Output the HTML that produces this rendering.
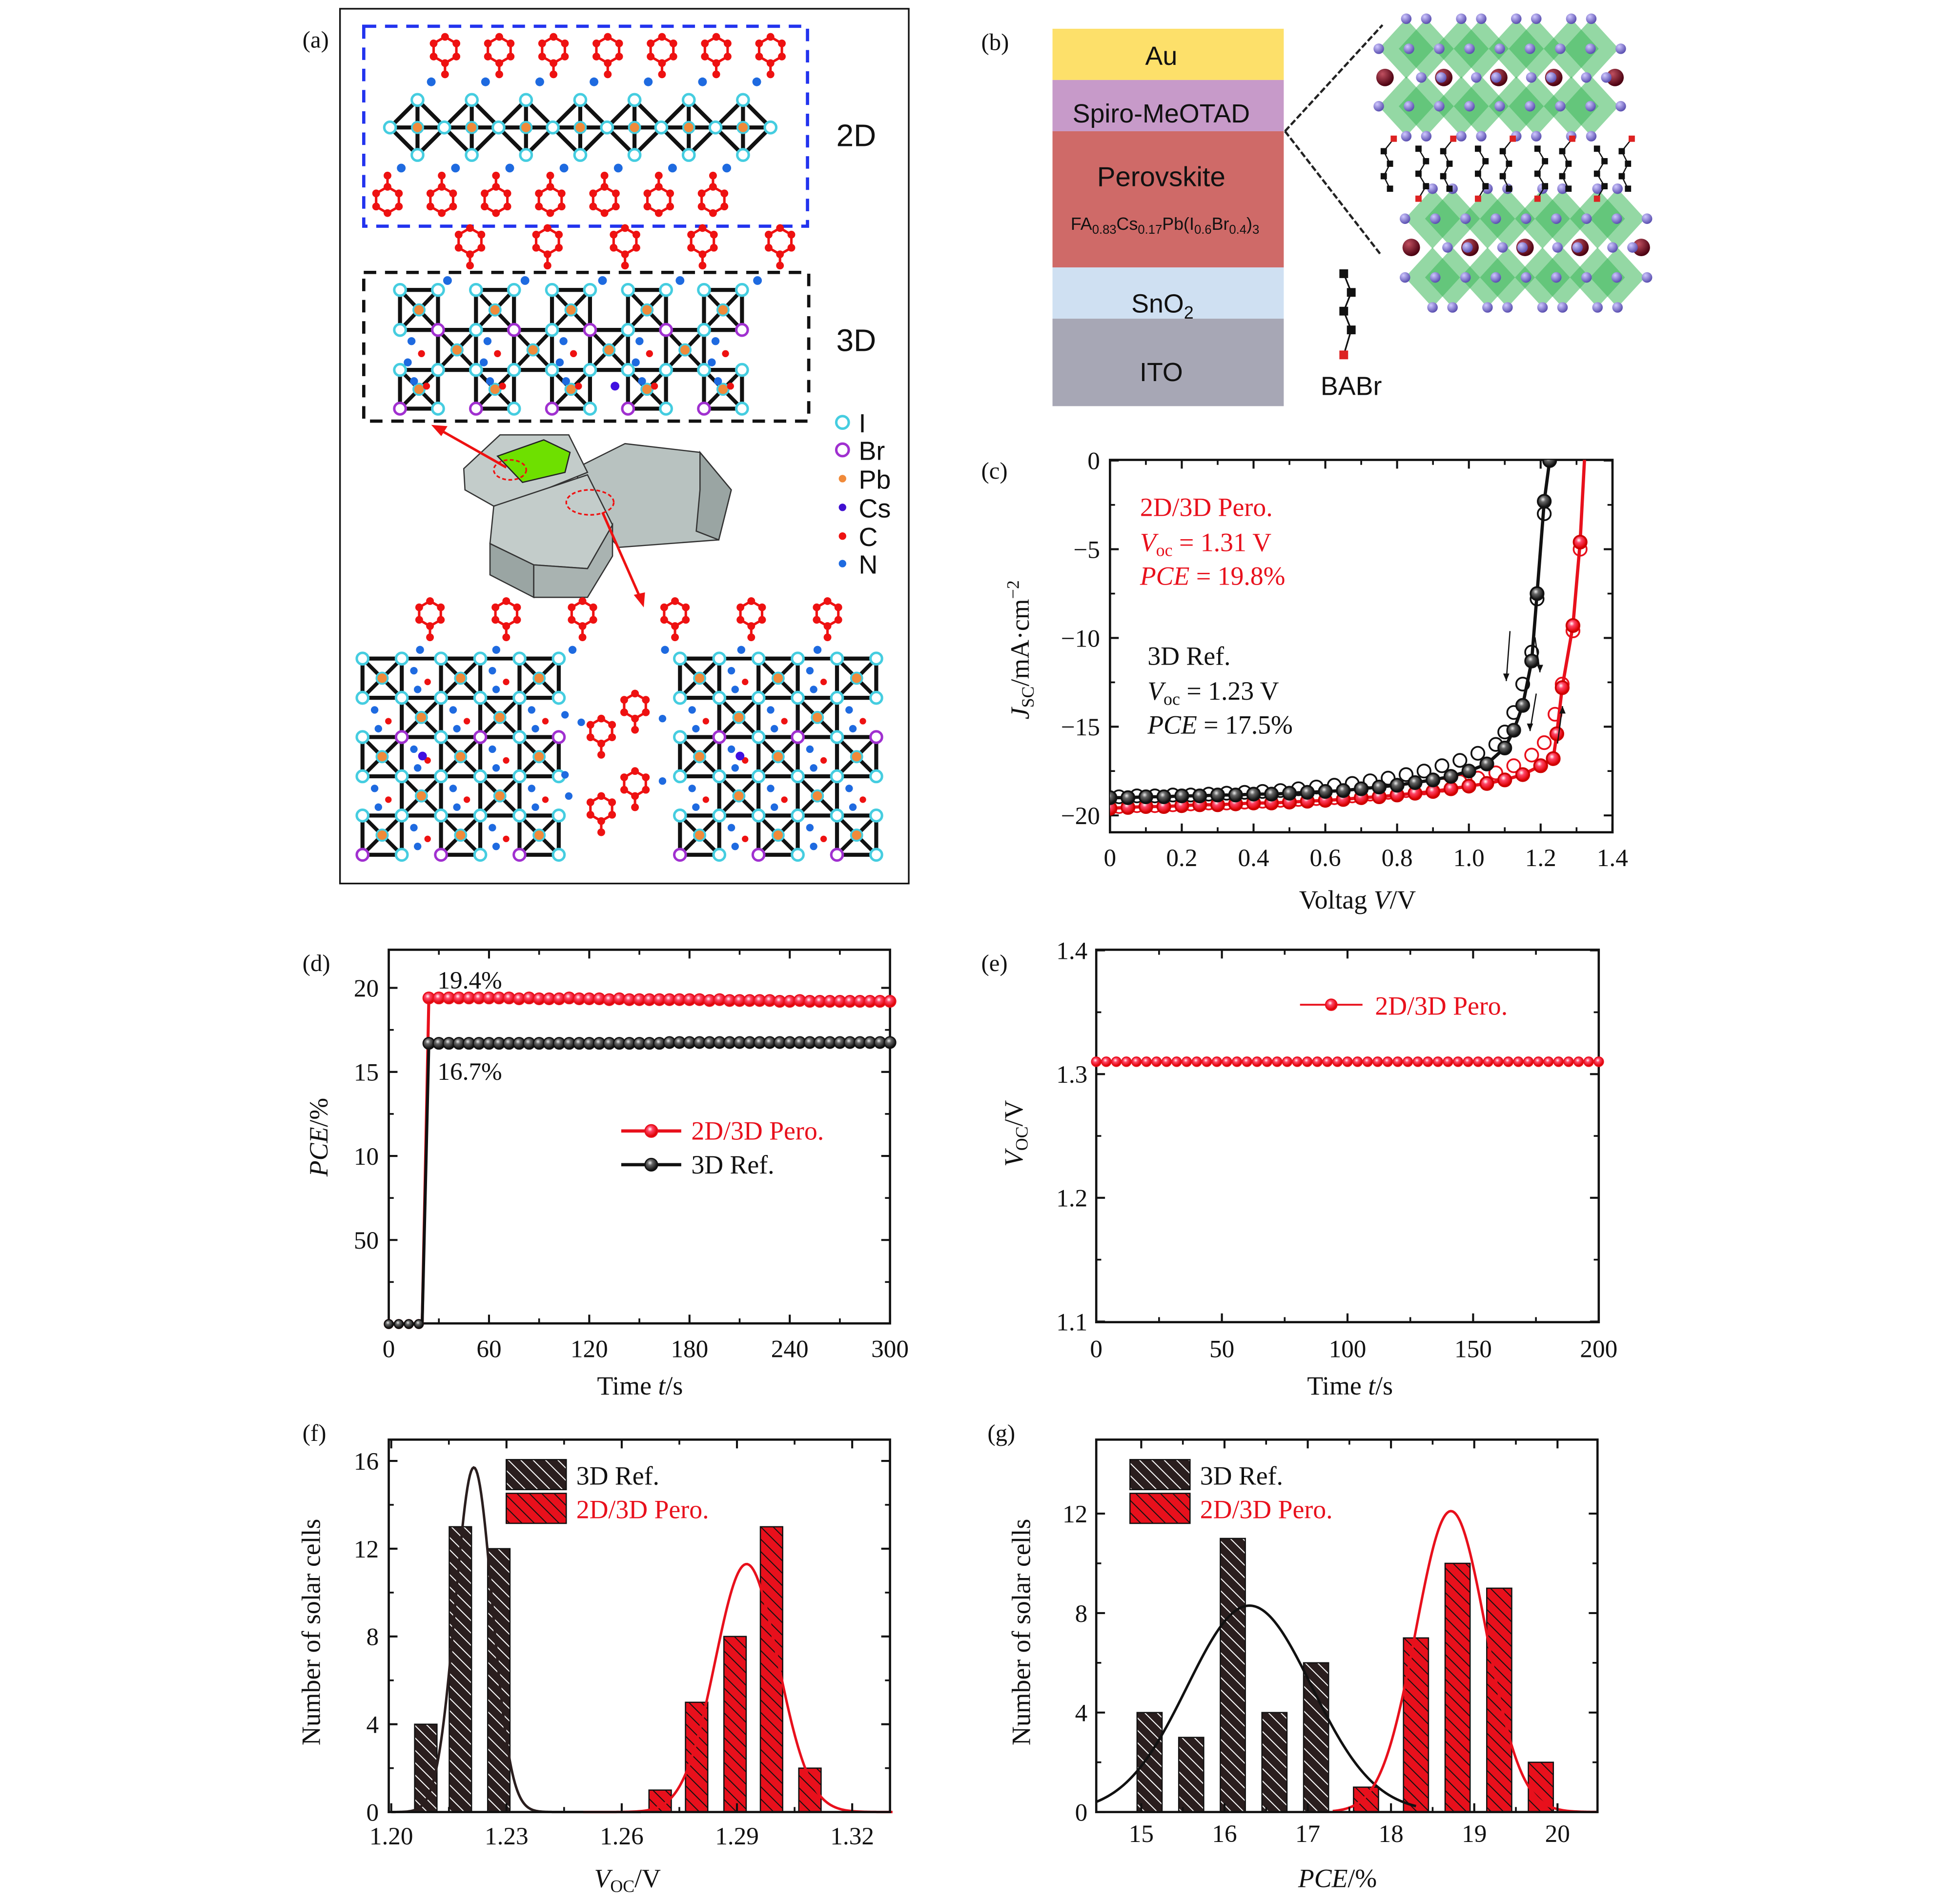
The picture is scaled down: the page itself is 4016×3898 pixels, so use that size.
<!DOCTYPE html>
<html><head><meta charset="utf-8"><style>
html,body{margin:0;padding:0;background:#fff;overflow:hidden;}
svg{display:block;}
text{font-family:"Liberation Serif",serif;}
.sans{font-family:"Liberation Sans",sans-serif;}
</style></head><body>
<svg id="fig" xmlns="http://www.w3.org/2000/svg" width="4016" height="3898" viewBox="0 0 1568 1522" preserveAspectRatio="none">
<defs>
<radialGradient id="gRed" cx="0.4" cy="0.35" r="0.6"><stop offset="0" stop-color="#fff"/><stop offset="0.35" stop-color="#f46"/><stop offset="1" stop-color="#d00"/></radialGradient>
<radialGradient id="gBlk" cx="0.4" cy="0.35" r="0.6"><stop offset="0" stop-color="#eee"/><stop offset="0.35" stop-color="#666"/><stop offset="1" stop-color="#111"/></radialGradient>
<radialGradient id="gBall" cx="0.35" cy="0.3" r="0.7"><stop offset="0" stop-color="#d0c8ff"/><stop offset="1" stop-color="#5a4fb0"/></radialGradient>
<radialGradient id="gDark" cx="0.35" cy="0.3" r="0.7"><stop offset="0" stop-color="#c05060"/><stop offset="1" stop-color="#4a0010"/></radialGradient>
<pattern id="hBlk" width="7" height="7" patternUnits="userSpaceOnUse" patternTransform="rotate(-45)"><rect width="7" height="7" fill="#2a1e1e"/><line x1="0" y1="0" x2="0" y2="7" stroke="#fff" stroke-width="1.6"/></pattern>
<pattern id="hRed" width="7" height="7" patternUnits="userSpaceOnUse" patternTransform="rotate(-45)"><rect width="7" height="7" fill="#e8101c"/><line x1="0" y1="0" x2="0" y2="7" stroke="#111" stroke-width="1.6"/></pattern>
</defs>
</svg>
<script>
const NS="http://www.w3.org/2000/svg";
const svg=document.getElementById('fig');
function el(tag,attrs,parent){const e=document.createElementNS(NS,tag);for(const k in attrs)e.setAttribute(k,attrs[k]);(parent||svg).appendChild(e);return e;}
function txt(x,y,s,attrs,parent){const t=el('text',Object.assign({x:x,y:y},attrs||{}),parent);t.textContent=s;return t;}

/* ================= DATA ================= */
// (c) J-V curves
const cRedFwdV=[0,.05,.1,.15,.2,.25,.3,.35,.4,.45,.5,.55,.6,.65,.7,.75,.8,.85,.9,.95,1.0,1.05,1.1,1.15,1.2,1.235,1.245,1.26,1.29,1.31,1.322];
const cRedFwdJ=[-19.6,-19.55,-19.5,-19.5,-19.45,-19.4,-19.4,-19.35,-19.3,-19.3,-19.25,-19.2,-19.15,-19.1,-19.0,-18.95,-18.85,-18.75,-18.65,-18.5,-18.35,-18.2,-18.0,-17.7,-17.2,-16.8,-15.4,-12.8,-9.3,-4.6,0];
const cRedRevV=[.025,.075,.125,.175,.225,.275,.325,.375,.425,.475,.525,.575,.625,.675,.725,.775,.825,.875,.925,.975,1.025,1.075,1.125,1.175,1.21,1.24,1.26,1.29,1.31];
const cRedRevJ=[-19.5,-19.45,-19.45,-19.4,-19.35,-19.3,-19.3,-19.25,-19.2,-19.15,-19.1,-19.05,-19.0,-18.9,-18.8,-18.7,-18.6,-18.45,-18.3,-18.1,-17.9,-17.6,-17.2,-16.6,-15.9,-14.3,-12.6,-9.6,-5.0];
const cBlkFwdV=[0,.05,.1,.15,.2,.25,.3,.35,.4,.45,.5,.55,.6,.65,.7,.75,.8,.85,.9,.95,1.0,1.05,1.1,1.125,1.15,1.175,1.19,1.21,1.225];
const cBlkFwdJ=[-19.0,-19.0,-18.95,-18.95,-18.9,-18.9,-18.85,-18.85,-18.8,-18.8,-18.75,-18.7,-18.65,-18.6,-18.5,-18.4,-18.3,-18.15,-18.0,-17.8,-17.5,-17.1,-16.2,-15.2,-13.8,-11.3,-7.5,-2.3,0];
const cBlkRevV=[.025,.075,.125,.175,.225,.275,.325,.375,.425,.475,.525,.575,.625,.675,.725,.775,.825,.875,.925,.975,1.025,1.075,1.1,1.125,1.15,1.175,1.19,1.21];
const cBlkRevJ=[-18.95,-18.9,-18.9,-18.85,-18.85,-18.8,-18.75,-18.7,-18.65,-18.6,-18.5,-18.4,-18.3,-18.2,-18.05,-17.9,-17.7,-17.5,-17.2,-16.9,-16.5,-16.0,-15.3,-14.2,-12.6,-10.8,-7.8,-3.0];
const cXTicks=[0,0.2,0.4,0.6,0.8,1.0,1.2,1.4];
const cXLabels=["0","0.2","0.4","0.6","0.8","1.0","1.2","1.4"];
const cYTicks=[0,-5,-10,-15,-20];
const cYLabels=["0","\u22125","\u221210","\u221215","\u221220"];

// (d) steady PCE
const dTimeZero=[0,6,12,18];
const dZeroVals=[0,0,0,0];
const dTime=[24,30,36,42,48,54,60,66,72,78,84,90,96,102,108,114,120,126,132,138,144,150,156,162,168,174,180,186,192,198,204,210,216,222,228,234,240,246,252,258,264,270,276,282,288,294,300];
const dRed=[19.4,19.4,19.4,19.4,19.4,19.4,19.4,19.4,19.4,19.35,19.4,19.35,19.35,19.35,19.4,19.35,19.35,19.35,19.3,19.35,19.3,19.3,19.3,19.3,19.3,19.3,19.3,19.3,19.25,19.3,19.25,19.25,19.25,19.25,19.25,19.2,19.2,19.25,19.2,19.2,19.2,19.2,19.2,19.2,19.2,19.2,19.2];
const dBlk=[16.7,16.7,16.7,16.7,16.7,16.7,16.7,16.7,16.7,16.7,16.7,16.7,16.7,16.7,16.7,16.7,16.7,16.7,16.7,16.7,16.7,16.7,16.7,16.7,16.75,16.75,16.75,16.75,16.75,16.75,16.75,16.75,16.75,16.75,16.75,16.75,16.75,16.75,16.75,16.75,16.75,16.75,16.75,16.75,16.75,16.75,16.75];
const dXTicks=[0,60,120,180,240,300];
const dYTicks=[20,15,10,5];
const dYLabels=["20","15","10","50"];

// (e) steady Voc
const eTime=[0,4,8,12,16,20,24,28,32,36,40,44,48,52,56,60,64,68,72,76,80,84,88,92,96,100,104,108,112,116,120,124,128,132,136,140,144,148,152,156,160,164,168,172,176,180,184,188,192,196,200];
const eVoc=[1.31,1.31,1.31,1.31,1.31,1.31,1.31,1.31,1.31,1.31,1.31,1.31,1.31,1.31,1.31,1.31,1.31,1.31,1.31,1.31,1.31,1.31,1.31,1.31,1.31,1.31,1.31,1.31,1.31,1.31,1.31,1.31,1.31,1.31,1.31,1.31,1.31,1.31,1.31,1.31,1.31,1.31,1.31,1.31,1.31,1.31,1.31,1.31,1.31,1.31,1.31];
const eXTicks=[0,50,100,150,200];
const eYTicks=[1.1,1.2,1.3,1.4];

// (f) Voc histogram
const fBlkBins=[1.209,1.218,1.228];
const fBlkCounts=[4,13,12];
const fRedBins=[1.270,1.2795,1.2895,1.299,1.309];
const fRedCounts=[1,5,8,13,2];
const fBlkFit=[15.7,1.2215,0.0048];   // amplitude, mean, sigma
const fRedFit=[11.3,1.2925,0.0082];
const fXTicks=[1.20,1.23,1.26,1.29,1.32];
const fXLabels=["1.20","1.23","1.26","1.29","1.32"];
const fYTicks=[0,4,8,12,16];

// (g) PCE histogram
const gBlkBins=[15.1,15.6,16.1,16.6,17.1];
const gBlkCounts=[4,3,11,4,6];
const gRedBins=[17.7,18.3,18.8,19.3,19.8];
const gRedCounts=[1,7,10,9,2];
const gBlkFit=[8.3,16.3,0.75];
const gRedFit=[12.1,18.72,0.42];
const gXTicks=[15,16,17,18,19,20];
const gYTicks=[0,4,8,12];

/* ================= AXES ================= */
const xc=v=>888+v*287.1, yc=j=>368.5-j*14.2;
const xd=t=>311+t*401/300, yd=p=>1059.5-p*13.45;
const xe=t=>877+t*402/200, ye=v=>1057.5-(v-1.1)*990;
const xf=v=>313+(v-1.2)*3073, yf=n=>1450-n*17.56;
const xg=p=>913+(p-15)*66.6, yg=n=>1450-n*19.9;

function frame(x0,y0,x1,y1,name){
  const r=el('rect',{x:x0,y:y0,width:x1-x0,height:y1-y0,fill:'none',stroke:'#111','stroke-width':1.8});
  
  
}
function xTicks(ticks,labels,sx,y0,y1,ly,name,minor){
  const g=el('g',{});
  
  
  ticks.forEach((v,i)=>{
    el('line',{x1:sx(v),x2:sx(v),y1:y1,y2:y1-7,stroke:'#111','stroke-width':1.6},g);
    el('line',{x1:sx(v),x2:sx(v),y1:y0,y2:y0+7,stroke:'#111','stroke-width':1.6},g);
    txt(sx(v),ly,labels[i],{'font-size':20,'text-anchor':'middle',fill:'#111'},g);
  });
  (minor||[]).forEach(v=>{
    el('line',{x1:sx(v),x2:sx(v),y1:y1,y2:y1-4,stroke:'#111','stroke-width':1.4},g);
    el('line',{x1:sx(v),x2:sx(v),y1:y0,y2:y0+4,stroke:'#111','stroke-width':1.4},g);
  });
}
function yTicks(ticks,labels,sy,x0,x1,lx,name,minor){
  const g=el('g',{});
  
  
  ticks.forEach((v,i)=>{
    el('line',{x1:x0,x2:x0+7,y1:sy(v),y2:sy(v),stroke:'#111','stroke-width':1.6},g);
    el('line',{x1:x1,x2:x1-7,y1:sy(v),y2:sy(v),stroke:'#111','stroke-width':1.6},g);
    txt(lx,sy(v)+7,labels[i],{'font-size':20,'text-anchor':'end',fill:'#111'},g);
  });
  (minor||[]).forEach(v=>{
    el('line',{x1:x0,x2:x0+4,y1:sy(v),y2:sy(v),stroke:'#111','stroke-width':1.4},g);
    el('line',{x1:x1,x2:x1-4,y1:sy(v),y2:sy(v),stroke:'#111','stroke-width':1.4},g);
  });
}
function panelLabel(x,y,s){
  const t=txt(x,y,s,{'font-size':19,fill:'#111'});
  
  
}

/* ================= PANEL (a) ================= */
(function(){
  const A=el('g',{});
  
  
  el('rect',{x:272,y:7,width:455,height:700,fill:'#fff',stroke:'#111','stroke-width':1.3},A);
  const cy='#45cde0',pu='#a030d0',rd='#ee1111',bl='#1e6ae0',or='#f08a3a';
  function vtx(x,y,c,g){el('circle',{cx:x,cy:y,r:4.6,fill:'#fff',stroke:c||cy,'stroke-width':2},g);}
  function pb(x,y,g){el('circle',{cx:x,cy:y,r:4.5,fill:or,stroke:cy,'stroke-width':1.5},g);}
  function dot(x,y,c,r,g){el('circle',{cx:x,cy:y,r:r||3,fill:c},g);}
  function hex(cx,cy,r,dir,g){
    const pts=[];for(let k=0;k<6;k++){const a=Math.PI/6+k*Math.PI/3;pts.push([cx+r*Math.cos(a),cy+r*Math.sin(a)]);}
    el('polygon',{points:pts.map(p=>p.join(',')).join(' '),fill:'none',stroke:rd,'stroke-width':2},g);
    const ty=cy+dir*r, t2=ty+dir*9;
    el('line',{x1:cx,y1:ty,x2:cx,y2:t2,stroke:rd,'stroke-width':2},g);
    pts.forEach(p=>dot(p[0],p[1],rd,3.1,g));
    dot(cx,t2,rd,3.1,g);
    return [cx,t2];
  }
  const g2=el('g',{},A);
  
  
  el('rect',{x:291,y:21,width:355,height:160,fill:'none',stroke:'#2233ee','stroke-width':2.6,'stroke-dasharray':'10,7'},g2);
  for(let i=0;i<7;i++){
    const cx=334+i*43.4, c=102, h=22;
    el('polygon',{points:`${cx-h},${c} ${cx},${c-h} ${cx+h},${c} ${cx},${c+h}`,fill:'none',stroke:'#111','stroke-width':3.2},g2);
    el('line',{x1:cx-h,y1:c,x2:cx+h,y2:c,stroke:'#111','stroke-width':3.2},g2);
    el('line',{x1:cx,y1:c-h,x2:cx,y2:c+h,stroke:'#111','stroke-width':3.2},g2);
  }
  for(let i=0;i<7;i++){
    const cx=334+i*43.4;
    vtx(cx,80,null,g2);vtx(cx,124,null,g2);vtx(cx-22,102,null,g2);pb(cx,102,g2);
    if(i==6)vtx(cx+22,102,null,g2);
    const t=hex(cx+22,40,10.5,1,g2);dot(t[0]-11,t[1]+6,bl,3.5,g2);
    const b=hex(cx-24,160,10.5,-1,g2);dot(b[0]+11,b[1]-6,bl,3.5,g2);
  }
  txt(669,117,'2D',{'font-size':25,fill:'#111',class:'sans'},A);
  for(let i=0;i<5;i++){const cx=376+i*62;const t=hex(cx,193,10.5,1,A);dot(t[0]-18,t[1]+12,bl,3.5,A);}
  const g3=el('g',{},A);
  
  
  el('rect',{x:291,y:218,width:356,height:119,fill:'none',stroke:'#111','stroke-width':2.6,'stroke-dasharray':'10,7'},g3);
  const X=[],Y=[232,264,296,327];for(let k=0;k<10;k++)X.push(320+30.4*k);
  function sq(x0,y0,x1,y1,g){el('rect',{x:x0,y:y0,width:x1-x0,height:y1-y0,fill:'none',stroke:'#111','stroke-width':3.2},g);
    el('line',{x1:x0,y1:y0,x2:x1,y2:y1,stroke:'#111','stroke-width':3},g);el('line',{x1:x1,y1:y0,x2:x0,y2:y1,stroke:'#111','stroke-width':3},g);}
  el('line',{x1:X[0],y1:Y[1],x2:X[9],y2:Y[1],stroke:'#111','stroke-width':3.2},g3);
  el('line',{x1:X[0],y1:Y[2],x2:X[9],y2:Y[2],stroke:'#111','stroke-width':3.2},g3);
  [[0,0,2,4,6,8],[1,1,3,5,7],[2,0,2,4,6,8]].forEach(r=>{const b=r[0];r.slice(1).forEach(k=>sq(X[k],Y[b],X[k+1],Y[b+1],g3));});
  [[0,0,2,4,6,8],[1,1,3,5,7],[2,0,2,4,6,8]].forEach(r=>{const b=r[0];r.slice(1).forEach(k=>pb((X[k]+X[k+1])/2,(Y[b]+Y[b+1])/2,g3));});
  for(let r=0;r<4;r++)for(let k=0;k<10;k++){let c=cy;if((r==1&&k%2==1)||(r==3&&k%2==0))c=pu;vtx(X[k],Y[r],c,g3);}
  [[0,1],[2,3],[4,5],[6,7],[8,9]].forEach((p,i)=>{const x=(X[p[0]]+X[p[1]])/2;dot(x-6,273,bl,3.2,g3);dot(x+2,283,rd,2.8,g3);dot(x-9,290,bl,3.2,g3);dot(x-4,305,bl,3.2,g3);dot(x+6,309,rd,2.8,g3);});
  dot(492,309,'#4010e0',3.5,g3);
  txt(669,281,'3D',{'font-size':25,fill:'#111',class:'sans'},A);
  const gr=el('g',{},A);
  
  
  el('polygon',{points:'460,375 500,355 560,362 585,392 575,432 495,438 470,410',fill:'#b8c2c0',stroke:'#333','stroke-width':1},gr);
  el('polygon',{points:'560,362 585,392 575,432 557,425 560,392',fill:'#9aa5a3',stroke:'#333','stroke-width':1},gr);
  el('polygon',{points:'371,375 400,348 455,348 470,378 420,398 395,405 372,392',fill:'#c3ccca',stroke:'#333','stroke-width':1},gr);
  el('polygon',{points:'395,405 470,380 490,420 470,455 427,452 392,435',fill:'#c3ccca',stroke:'#333','stroke-width':1},gr);
  el('polygon',{points:'392,435 427,452 427,478 392,460',fill:'#9aa5a3',stroke:'#333','stroke-width':1},gr);
  el('polygon',{points:'427,452 470,455 490,420 490,445 470,478 427,478',fill:'#a9b3b1',stroke:'#333','stroke-width':1},gr);
  el('polygon',{points:'398,365 435,352 456,362 452,378 418,386',fill:'#6ee000',stroke:'#222','stroke-width':1},gr);
  el('ellipse',{cx:408,cy:376,rx:13,ry:8,fill:'none',stroke:'#e11','stroke-width':1.3,'stroke-dasharray':'3,2'},gr);
  el('ellipse',{cx:472,cy:402,rx:19,ry:10,fill:'none',stroke:'#e11','stroke-width':1.3,'stroke-dasharray':'3,2'},gr);
  el('line',{x1:405,y1:374,x2:352,y2:344,stroke:'#e11','stroke-width':2},gr);
  el('polygon',{points:'345,340 358,341 353,349',fill:'#e11'},gr);
  el('line',{x1:482,y1:410,x2:512,y2:478,stroke:'#e11','stroke-width':2},gr);
  el('polygon',{points:'515,486 507,476 516,474',fill:'#e11'},gr);
  const lg=el('g',{},A);
  
  
  const L=[['I',338,'o',cy],['Br',360,'o',pu],['Pb',383,'d',or],['Cs',406,'d','#4010d0'],['C',429,'d',rd],['N',451,'d',bl]];
  L.forEach(l=>{if(l[2]=='o')el('circle',{cx:674,cy:l[1],r:5,fill:'#fff',stroke:l[3],'stroke-width':2},lg);else dot(674,l[1],l[3],3,lg);
    txt(687,l[1]+8,l[0],{'font-size':21,fill:'#111',class:'sans'},lg);});
  function block(x0,y0,hx){
    const g=el('g',{},A);
    
    
    const xs=[],ys=[];for(let k=0;k<6;k++){xs.push(x0+31.4*k);ys.push(y0+31.4*k);}
    for(let b=0;b<5;b++){el('line',{x1:xs[0],y1:ys[b],x2:xs[5],y2:ys[b],stroke:'#111','stroke-width':3},g);}
    for(let b=0;b<5;b++){for(let k=(b%2);k<5;k+=2){sq(xs[k],ys[b],xs[k+1],ys[b+1],g);}}
    for(let b=0;b<5;b++){for(let k=(b%2);k<5;k+=2){pb((xs[k]+xs[k+1])/2,(ys[b]+ys[b+1])/2,g);}}
    for(let r=0;r<6;r++)for(let k=0;k<6;k++){let c=cy;if((r==2&&k%2==1)||(r==5&&k%2==0))c=pu;vtx(xs[k],ys[r],c,g);}
    for(let b=0;b<5;b++){for(let k=1-(b%2);k<5;k+=2){const x=(xs[k]+xs[k+1])/2,y=(ys[b]+ys[b+1])/2;dot(x-6,y-6,bl,3,g);dot(x+5,y+3,rd,2.6,g);dot(x-3,y+9,bl,3,g);}}
    dot(x0+48,y0+78,'#4010e0',3.5,g);
    for(let i=0;i<3;i++){const t=hex(hx+i*61,y0-36,10,1,g);dot(t[0]-8,t[1]+10,bl,3.2,g);}
  }
  block(290,527,344);block(544,527,540);
  [[481,585],[508,565],[508,627],[481,647]].forEach(p=>hex(p[0],p[1],10,1,A));
  [[452,572],[465,578],[530,575],[455,637],[530,625],[452,620]].forEach(p=>dot(p[0],p[1],bl,3,A));
})();
panelLabel(242,38,'(a)');

/* ================= PANEL (b) ================= */
(function(){
  const B=el('g',{});
  
  
  const layers=[['Au',23,64,'#fde06a','gold-layer'],['Spiro-MeOTAD',64,105,'#c79ac9','spiro-layer'],['',105,214,'#cf6a68','perovskite-layer'],['SnO2',214,255,'#cfe0f2','sno2-layer'],['ITO',255,325,'#a7a7b5','ito-layer']];
  layers.forEach(l=>{const r=el('rect',{x:842,y:l[1],width:185,height:l[2]-l[1],fill:l[3]},B);});
  txt(929,52,'Au',{'font-size':21,'text-anchor':'middle',class:'sans',fill:'#111'},B);
  txt(929,98,'Spiro-MeOTAD',{'font-size':21,'text-anchor':'middle',class:'sans',fill:'#111'},B);
  txt(929,149,'Perovskite',{'font-size':22,'text-anchor':'middle',class:'sans',fill:'#111'},B);
  const f=txt(932,184,'',{'font-size':14,'text-anchor':'middle',class:'sans',fill:'#111'},B);
  f.innerHTML='FA<tspan font-size="10" dy="3">0.83</tspan><tspan dy="-3">Cs</tspan><tspan font-size="10" dy="3">0.17</tspan><tspan dy="-3">Pb(I</tspan><tspan font-size="10" dy="3">0.6</tspan><tspan dy="-3">Br</tspan><tspan font-size="10" dy="3">0.4</tspan><tspan dy="-3">)</tspan><tspan font-size="10" dy="3">3</tspan>';
  const s=txt(930,250,'',{'font-size':21,'text-anchor':'middle',class:'sans',fill:'#111'},B);
  s.innerHTML='SnO<tspan font-size="14" dy="5">2</tspan>';
  txt(929,305,'ITO',{'font-size':21,'text-anchor':'middle',class:'sans',fill:'#111'},B);
  el('line',{x1:1028,y1:105,x2:1106,y2:20,stroke:'#222','stroke-width':1.8,'stroke-dasharray':'5,2'},B);
  el('line',{x1:1028,y1:105,x2:1104,y2:203,stroke:'#222','stroke-width':1.8,'stroke-dasharray':'5,2'},B);
  const C=el('g',{transform:'translate(8,0)'},B);
  
  
  function slab(dx,ys,darkY){
    const cxs=[1117,1133,1161,1177,1205,1221,1249,1265];
    ys.forEach(y=>cxs.forEach(cx=>el('polygon',{points:`${cx+dx-22},${y} ${cx+dx},${y-24} ${cx+dx+22},${y} ${cx+dx},${y+24}`,fill:'#3cb85a','fill-opacity':0.55},C)));
    ys.forEach(y=>{for(let i=0;i<9;i++){const x=1095+dx+i*24.2;el('circle',{cx:x,cy:y,r:4.2,fill:'url(#gBall)'},C);}});
    [ys[0]-24,ys[1]+24].forEach(y=>cxs.forEach(cx=>el('circle',{cx:cx+dx,cy:y,r:4.2,fill:'url(#gBall)'},C)));
    [1100,1147,1191,1235,1284].forEach((x,i)=>{el('circle',{cx:x+dx,cy:darkY,r:7,fill:'url(#gDark)'},C);});
    cxs.forEach(cx=>{el('circle',{cx:cx+dx+12,cy:darkY,r:4.2,fill:'url(#gBall)'},C);});
  }
  slab(0,[39,85],62);
  slab(21,[175,222],198);
  for(let i=0;i<9;i++){
    const x=1103+i*23.8, up=i%2==0;
    const pts=up?[[x+4,111],[x-4,121],[x+1,131],[x-4,141],[x+1,151]]:[[x,119],[x+6,129],[x,139],[x+6,149],[x,159]];
    el('polyline',{points:pts.map(p=>p.join(',')).join(' '),fill:'none',stroke:'#111','stroke-width':1},C);
    pts.forEach((p,k)=>el('rect',{x:p[0]-2.5,y:p[1]-2.5,width:5,height:5,fill:(up?k==0:k==4)?'#d22':'#111'},C));
  }
  const ba=el('g',{},B);
  
  
  const bp=[[1075,219],[1081,234],[1075,249],[1081,264],[1075,284]];
  el('polyline',{points:bp.map(p=>p.join(',')).join(' '),fill:'none',stroke:'#111','stroke-width':1.3},ba);
  bp.forEach((p,k)=>el('rect',{x:p[0]-3.5,y:p[1]-3.5,width:7,height:7,fill:k==4?'#d22':'#111'},ba));
  txt(1081,316,'BABr',{'font-size':21,'text-anchor':'middle',class:'sans',fill:'#111'},B);
})();
panelLabel(785,40,'(b)');

/* ================= PANEL (c) ================= */
(function(){
  frame(888,368,1290,666,'jv-plot-frame');
  xTicks(cXTicks,cXLabels,xc,368,666,693,'x-axis-ticks-c',[0.1,0.3,0.5,0.7,0.9,1.1,1.3]);
  yTicks(cYTicks,cYLabels,yc,888,1290,880,'y-axis-ticks-c',[-2.5,-7.5,-12.5,-17.5]);
  const xt=txt(1086,727,'',{'font-size':21,'text-anchor':'middle',fill:'#111'});
  xt.innerHTML='Voltag <tspan font-style="italic">V</tspan>/V';
  
  
  const yt=txt(0,0,'',{'font-size':21,'text-anchor':'middle',fill:'#111',transform:'translate(823,520) rotate(-90)'});
  yt.innerHTML='<tspan font-style="italic">J</tspan><tspan font-size="14" dy="4">SC</tspan><tspan dy="-4">/mA·cm</tspan><tspan font-size="14" dy="-8">−2</tspan>';
  
  
  const clip=el('clipPath',{id:'clipC'});el('rect',{x:888,y:368,width:402,height:298},clip);
  const G=el('g',{'clip-path':'url(#clipC)'});
  function series(V,J,color,filled,name,ext){
    const g=el('g',{},G);
    
    
    if(ext){const pts=V.map((v,i)=>xc(v)+','+yc(J[i]));pts.push(xc(V[V.length-1]+0.01)+','+yc(6));
      el('polyline',{points:pts.join(' '),fill:'none',stroke:color,'stroke-width':2.6},g);}
    V.forEach((v,i)=>{if(v>1.318&&J[i]==0)return;const m=el('circle',{cx:xc(v),cy:yc(J[i]),r:5.2,fill:filled?(color=='#e8101c'?'url(#gRed)':'url(#gBlk)'):'#fff',stroke:filled?(color=='#e8101c'?'#c00':'#111'):color,'stroke-width':1.4},g);
      
      });
  }
  series(cRedRevV,cRedRevJ,'#e8101c',false,'red-reverse-scan',false);
  series(cBlkRevV,cBlkRevJ,'#111',false,'black-reverse-scan',false);
  series(cRedFwdV,cRedFwdJ,'#e8101c',true,'red-forward-scan',true);
  series(cBlkFwdV,cBlkFwdJ,'#111',true,'black-forward-scan',true);
  const an=el('g',{});
  
  
  txt(912,413,'2D/3D Pero.',{'font-size':21,fill:'#e8101c'},an);
  txt(912,441,'',{'font-size':21,fill:'#e8101c'},an).innerHTML='<tspan font-style="italic">V</tspan><tspan font-size="14" dy="4">oc</tspan><tspan dy="-4"> = 1.31 V</tspan>';
  txt(912,468,'',{'font-size':21,fill:'#e8101c'},an).innerHTML='<tspan font-style="italic">PCE</tspan> = 19.8%';
  txt(918,532,'3D Ref.',{'font-size':21,fill:'#111'},an);
  txt(918,560,'',{'font-size':21,fill:'#111'},an).innerHTML='<tspan font-style="italic">V</tspan><tspan font-size="14" dy="4">oc</tspan><tspan dy="-4"> = 1.23 V</tspan>';
  txt(918,587,'',{'font-size':21,fill:'#111'},an).innerHTML='<tspan font-style="italic">PCE</tspan> = 17.5%';
  [[1208,505,1205,545],[1232,538,1228,510],[1229,555,1224,585],[1250,565,1246,595]].forEach((a,i)=>{
    const down=i%2==0;const x1=down?a[0]:a[2],y1=down?a[1]:a[3],x2=down?a[2]:a[0],y2=down?a[3]:a[1];
    el('line',{x1:x1,y1:y1,x2:x2,y2:y2,stroke:'#111','stroke-width':1},an);
    const dy=y2>y1?-6:6;el('polygon',{points:`${x2},${y2} ${x2-2.5},${y2+dy} ${x2+2.5},${y2+dy}`,fill:'#111'},an);
  });
})();
panelLabel(785,383,'(c)');

/* ================= PANEL (d) ================= */
(function(){
  frame(311,760,712,1059,'pce-time-plot-frame');
  xTicks(dXTicks,dXTicks.map(String),xd,760,1059,1086,'x-axis-ticks-d',[30,90,150,210,270]);
  yTicks(dYTicks,dYLabels,yd,311,712,303,'y-axis-ticks-d',[17.5,12.5,7.5,2.5]);
  const xt=txt(512,1116,'',{'font-size':21,'text-anchor':'middle',fill:'#111'});
  xt.innerHTML='Time <tspan font-style="italic">t</tspan>/s';
  
  
  const yt=txt(0,0,'',{'font-size':21,'text-anchor':'middle',fill:'#111',transform:'translate(262,910) rotate(-90)'});
  yt.innerHTML='<tspan font-style="italic">PCE</tspan>/%';
  
  
  function series(vals,color,grad,name){
    const g=el('g',{});
    
    
    const pts=dTimeZero.map((t,i)=>xd(t)+','+yd(dZeroVals[i])).concat([xd(20)+','+yd(0)]).concat(dTime.map((t,i)=>xd(t)+','+yd(vals[i])));
    el('polyline',{points:pts.join(' '),fill:'none',stroke:color,'stroke-width':2.4},g);
    dTime.forEach((t,i)=>{const m=el('circle',{cx:xd(t),cy:yd(vals[i]),r:4.6,fill:grad,stroke:color,'stroke-width':1},g);
      
      });
    dTimeZero.forEach((t,i)=>el('circle',{cx:xd(t),cy:yd(dZeroVals[i]),r:3.5,fill:grad,stroke:color,'stroke-width':1},g));
  }
  series(dRed,'#e8101c','url(#gRed)','pce-2d3d-series');
  series(dBlk,'#111','url(#gBlk)','pce-3d-ref-series');
  const an=el('g',{});
  
  
  txt(350,791,dRed[0]+'%',{'font-size':20,fill:'#111'},an);
  txt(350,864,dBlk[0]+'%',{'font-size':20,fill:'#111'},an);
  const lg=el('g',{});
  
  
  el('line',{x1:497,x2:545,y1:905,y2:905,stroke:'#e8101c','stroke-width':2.6},lg);
  el('circle',{cx:521,cy:905,r:5,fill:'url(#gRed)',stroke:'#e8101c'},lg);
  txt(553,912,'2D/3D Pero.',{'font-size':21,fill:'#e8101c'},lg);
  el('line',{x1:497,x2:545,y1:932,y2:932,stroke:'#111','stroke-width':2.6},lg);
  el('circle',{cx:521,cy:932,r:5,fill:'url(#gBlk)',stroke:'#111'},lg);
  txt(553,939,'3D Ref.',{'font-size':21,fill:'#111'},lg);
})();
panelLabel(242,777,'(d)');

/* ================= PANEL (e) ================= */
(function(){
  frame(877,760,1279,1058,'voc-time-plot-frame');
  xTicks(eXTicks,eXTicks.map(String),xe,760,1058,1086,'x-axis-ticks-e',[25,75,125,175]);
  yTicks(eYTicks,eYTicks.map(v=>v.toFixed(1)),ye,877,1279,870,'y-axis-ticks-e',[1.15,1.25,1.35]);
  const xt=txt(1080,1116,'',{'font-size':21,'text-anchor':'middle',fill:'#111'});
  xt.innerHTML='Time <tspan font-style="italic">t</tspan>/s';
  
  
  const yt=txt(0,0,'',{'font-size':21,'text-anchor':'middle',fill:'#111',transform:'translate(818,907) rotate(-90)'});
  yt.innerHTML='<tspan font-style="italic">V</tspan><tspan font-size="14" dy="4">OC</tspan><tspan dy="-4">/V</tspan>';
  
  
  const g=el('g',{});
  
  
  el('polyline',{points:eTime.map((t,i)=>xe(t)+','+ye(eVoc[i])).join(' '),fill:'none',stroke:'#e8101c','stroke-width':1.5},g);
  eTime.forEach((t,i)=>{const m=el('circle',{cx:xe(t),cy:ye(eVoc[i]),r:3.8,fill:'url(#gRed)',stroke:'#e8101c','stroke-width':0.8},g);
    
    });
  const lg=el('g',{});
  
  
  el('line',{x1:1040,x2:1090,y1:804,y2:804,stroke:'#e8101c','stroke-width':1.5},lg);
  el('circle',{cx:1065,cy:804,r:4.5,fill:'url(#gRed)',stroke:'#e8101c'},lg);
  txt(1100,812,'2D/3D Pero.',{'font-size':21,fill:'#e8101c'},lg);
})();
panelLabel(785,777,'(e)');

/* ================= PANELS (f),(g) histograms ================= */
function hist(sx,sy,x0,x1,y0,y1,bins,counts,width,fill,name){
  const g=el('g',{});
  
  
  bins.forEach((b,i)=>{const r=el('rect',{x:sx(b-width/2),y:sy(counts[i]),width:sx(b+width/2)-sx(b-width/2),height:sy(0)-sy(counts[i]),fill:fill,stroke:'#111','stroke-width':1},g);
    
    });
}
function fit(sx,sy,lo,hi,p,color,name){
  const pts=[];for(let k=0;k<=200;k++){const v=lo+(hi-lo)*k/200;pts.push(sx(v)+','+sy(p[0]*Math.exp(-0.5*Math.pow((v-p[1])/p[2],2))));}
  const l=el('polyline',{points:pts.join(' '),fill:'none',stroke:color,'stroke-width':2});
  
  
}
function histLegend(x,name){
  const lg=el('g',{});
  
  
  el('rect',{x:x,y:1168,width:48,height:24,fill:'url(#hBlk)',stroke:'#111'},lg);
  txt(x+56,1188,'3D Ref.',{'font-size':21,fill:'#111'},lg);
  el('rect',{x:x,y:1195,width:48,height:24,fill:'url(#hRed)',stroke:'#111'},lg);
  txt(x+56,1215,'2D/3D Pero.',{'font-size':21,fill:'#e8101c'},lg);
}
(function(){
  hist(xf,yf,311,712,1152,1450,fBlkBins,fBlkCounts,0.0058,'url(#hBlk)','voc-hist-3d-ref');
  hist(xf,yf,311,712,1152,1450,fRedBins,fRedCounts,0.0058,'url(#hRed)','voc-hist-2d3d');
  fit(xf,yf,1.2,1.265,fBlkFit,'#2a1e1e','voc-fit-3d-ref');
  fit(xf,yf,1.25,1.3305,fRedFit,'#e8101c','voc-fit-2d3d');
  frame(311,1152,712,1450,'voc-hist-frame');
  xTicks(fXTicks,fXLabels,xf,1152,1450,1476,'x-axis-ticks-f',[1.215,1.245,1.275,1.305]);
  yTicks(fYTicks,fYTicks.map(String),yf,311,712,303,'y-axis-ticks-f',[2,6,10,14]);
  histLegend(405,'legend-f');
  const xt=txt(502,1510,'',{'font-size':21,'text-anchor':'middle',fill:'#111'});
  xt.innerHTML='<tspan font-style="italic">V</tspan><tspan font-size="14" dy="4">OC</tspan><tspan dy="-4">/V</tspan>';
  
  
  const yt=txt(0,0,'Number of solar cells',{'font-size':21,'text-anchor':'middle',fill:'#111',transform:'translate(256,1306) rotate(-90)'});
  
  
})();
panelLabel(242,1153,'(f)');
(function(){
  hist(xg,yg,877,1278,1152,1450,gBlkBins,gBlkCounts,0.3,'url(#hBlk)','pce-hist-3d-ref');
  hist(xg,yg,877,1278,1152,1450,gRedBins,gRedCounts,0.3,'url(#hRed)','pce-hist-2d3d');
  fit(xg,yg,14.46,18.3,gBlkFit,'#111','pce-fit-3d-ref');
  fit(xg,yg,17.3,20.48,gRedFit,'#e8101c','pce-fit-2d3d');
  frame(877,1152,1278,1450,'pce-hist-frame');
  xTicks(gXTicks,gXTicks.map(String),xg,1152,1450,1474,'x-axis-ticks-g',[15.5,16.5,17.5,18.5,19.5]);
  yTicks(gYTicks,gYTicks.map(String),yg,877,1278,870,'y-axis-ticks-g',[2,6,10]);
  histLegend(904,'legend-g');
  const xt=txt(1070,1510,'',{'font-size':21,'text-anchor':'middle',fill:'#111'});
  xt.innerHTML='<tspan font-style="italic">PCE</tspan>/%';
  
  
  const yt=txt(0,0,'Number of solar cells',{'font-size':21,'text-anchor':'middle',fill:'#111',transform:'translate(824,1306) rotate(-90)'});
  
  
})();
panelLabel(790,1153,'(g)');
</script>
</body></html>
